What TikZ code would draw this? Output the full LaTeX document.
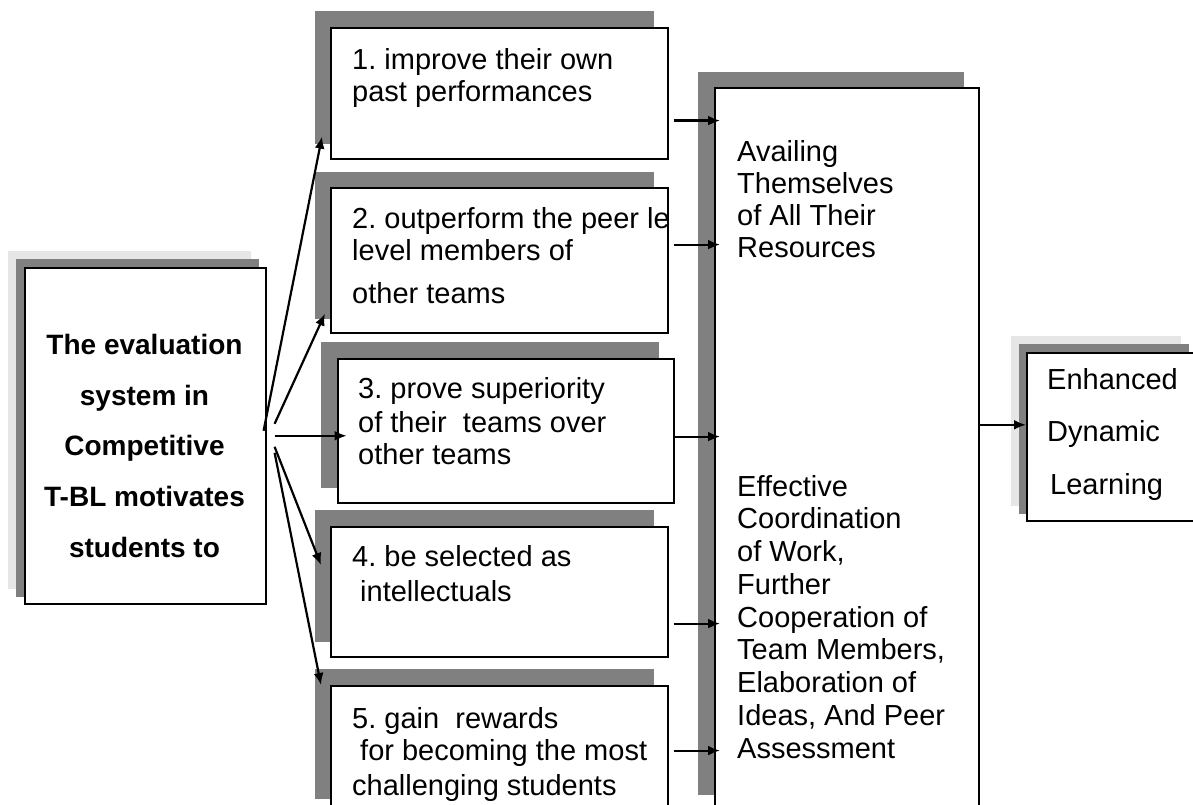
\documentclass[tikz,border=0pt]{standalone}
\usepackage{fontspec}
\setmainfont{Liberation Sans}
\usetikzlibrary{arrows.meta,calc,backgrounds}
\definecolor{shadedark}{HTML}{808080}
\definecolor{shadelight}{HTML}{E6E6E6}
\frenchspacing
\tikzset{
  box/.style={draw=black, line width=1.6pt, fill=white, inner sep=0pt, anchor=north west},
  txt/.style={inner sep=0pt, anchor=north west, align=left, font=\fontsize{29}{32}\selectfont},
  flow/.style={line width=2.2pt, -{Latex[length=12pt,width=10pt]}},
}
\begin{document}
\begin{tikzpicture}[x=1pt,y=-1pt]
\useasboundingbox (0,0) rectangle (1193,805);
\clip (0,0) rectangle (1193,805);

% boxes
\node[box, minimum width=241pt, minimum height=336pt] (src) at (24,267) {};
\node[box, minimum width=337pt, minimum height=131pt] (b1) at (330,27) {};
\node[box, minimum width=337pt, minimum height=145pt] (b2) at (330,187) {};
\node[box, minimum width=336pt, minimum height=144pt] (b3) at (337,358) {};
\node[box, minimum width=337pt, minimum height=130pt] (b4) at (330,526) {};
\node[box, minimum width=337pt, minimum height=128pt] (b5) at (330,685) {};
\node[box, minimum width=264pt, minimum height=721pt] (res) at (714,87) {};
\node[box, minimum width=168pt, minimum height=168pt] (out) at (1026,352) {};

% drop shadows behind the boxes
\begin{scope}[on background layer]
  \fill[shadelight] ([shift={(-16pt,16pt)}]src.south west) rectangle ([shift={(-16pt,16pt)}]src.north east);
  \fill[shadedark] ([shift={(-8pt,8pt)}]src.south west) rectangle ([shift={(-8pt,8pt)}]src.north east);
  \fill[shadedark] ([shift={(-15pt,16pt)}]b1.south west) rectangle ([shift={(-15pt,16pt)}]b1.north east);
  \fill[shadedark] ([shift={(-15pt,15pt)}]b2.south west) rectangle ([shift={(-15pt,15pt)}]b2.north east);
  \fill[shadedark] ([shift={(-16pt,16pt)}]b3.south west) rectangle ([shift={(-16pt,16pt)}]b3.north east);
  \fill[shadedark] ([shift={(-15pt,16pt)}]b4.south west) rectangle ([shift={(-15pt,16pt)}]b4.north east);
  \fill[shadedark] ([shift={(-15pt,16pt)}]b5.south west) rectangle ([shift={(-15pt,16pt)}]b5.north east);
  \fill[shadedark] ([shift={(-16pt,15pt)}]res.south west) rectangle ([shift={(-16pt,15pt)}]res.north east);
  \fill[shadelight] ([shift={(-15pt,16pt)}]out.south west) rectangle ([shift={(-15pt,16pt)}]out.north east);
  \fill[shadedark] ([shift={(-7pt,8pt)}]out.south west) rectangle ([shift={(-7pt,8pt)}]out.north east);
\end{scope}

% texts
\node[inner sep=0pt, anchor=north, align=center,
      font=\fontsize{28}{50.75}\selectfont\bfseries] (tsrc) at (144.5,334)
  {The evaluation\\system in\\Competitive\\T-BL motivates\\students to};
\node[txt] (t1) at (352,48) {1. improve their own\\past performances};
\begin{scope}
  \clip (b2.south west) rectangle (b2.north east);
  \node[txt] (t2) at (352,207) {2. outperform the peer level\\level members of\\[11pt]other teams};
\end{scope}
\node[txt] (t3) at (358,377) {3. prove superiority\\[2pt]of their~ teams over\\other teams};
\node[txt] (t4) at (352,545) {4. be selected as\\[3pt]\hspace*{8pt}intellectuals};
\node[txt] (t5) at (352,707) {5. gain~ rewards\\\hspace*{8pt}for becoming the most\\[3pt]challenging students};
\node[txt] (tres1) at (737,140) {Availing\\Themselves\\of All Their\\Resources};
\node[txt, font=\fontsize{29}{32.75}\selectfont] (tres2) at (737,475)
  {Effective\\Coordination\\of Work,\\Further\\Cooperation of\\Team Members,\\Elaboration of\\Ideas, And Peer\\Assessment};
\node[txt, font=\fontsize{29}{52.5}\selectfont] (tout) at (1047,368)
  {Enhanced\\Dynamic\\\hspace*{3pt}Learning};

% connectors from the evaluation system to the five motives
\draw[flow] ($(src.east)+(-3,-5)$) -- ($(b1.south west)+(-8,-23)$);
\draw[flow] ($(src.east)+(8,-12)$) -- ($(b2.south west)+(-5,-20)$);
\draw[flow] ($(src.east)+(8,0)$) -- ($(src.east)+(80,0)$);
\draw[flow] ($(src.east)+(8,11)$) -- ($(b4.north west)+(-9,39)$);
\draw[flow] ($(src.east)+(8,17)$) -- ($(b5.north west)+(-9,0)$);

% connectors from the motives to the outcomes
\draw[flow] ($(b1.south east)+(5,-39)$) coordinate (s1) -- ($(s1 -| res.west)+(6,0)$);
\draw[flow] ($(b2.south east)+(5,-89)$) coordinate (s2) -- ($(s2 -| res.west)+(6,0)$);
\draw[flow] ($(b3.south east)+(0,-67)$) coordinate (s3) -- ($(s3 -| res.west)+(6,0)$);
\draw[flow] ($(b4.south east)+(5,-34)$) coordinate (s4) -- ($(s4 -| res.west)+(6,0)$);
\draw[flow] ($(b5.south east)+(5,-64)$) coordinate (s5) -- ($(s5 -| res.west)+(6,0)$);

% connector to the final result
\draw[flow] ($(res.east)+(0,-23.5)$) coordinate (s6) -- (s6 -| out.west);
\end{tikzpicture}
\end{document}
